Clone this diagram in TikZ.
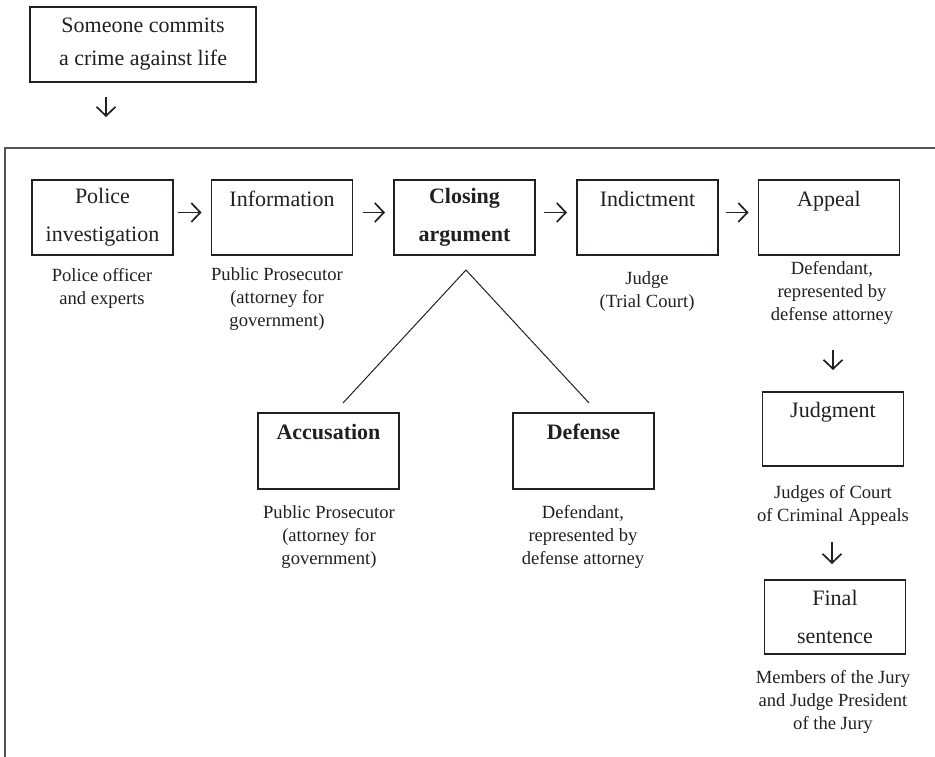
\documentclass[tikz,border=0pt]{standalone}
\usepackage{fontspec}
\setmainfont{Liberation Serif}
\usetikzlibrary{arrows.meta}
\definecolor{ink}{HTML}{231F20}
\definecolor{framegray}{HTML}{555555}
\tikzset{
  x=1pt,y=-1pt,
  box/.style={draw=ink,line width=1.2pt,rectangle,inner sep=0pt,outer sep=0pt,
    minimum width=141pt,minimum height=75pt,align=center,text=ink,
    font=\fontsize{22}{38}\selectfont},
  boldbox/.style={box,font=\fontsize{22}{38}\selectfont\bfseries},
  lbl/.style={align=center,text=ink,inner sep=0pt,font=\fontsize{18.6}{23}\selectfont},
  arr/.style={draw=ink,line width=1.7pt,-{Straight Barb[length=9pt,width=19pt,line width=1.7pt]}},
  split/.style={draw=ink,line width=1pt},
}
\begin{document}
\begin{tikzpicture}
\useasboundingbox (0,0) rectangle (935,757);
% outer frame (clipped by the page)
\draw[framegray,line width=2pt] (5,757) -- (5,148) -- (935,148);
% top box
\node[box,minimum width=226pt,font=\fontsize{22}{33}\selectfont] (start) at (143,44.5) {Someone commits\\a crime against life};
\coordinate (d0) at (106,117);
\draw[arr,shorten <=15pt] (start.south -| d0) -- (d0);
% main row
\node[box] (police) at (102.5,217.5) {Police\\investigation};
\node[box] (info) at (282,217.5) {Information\\\mbox{}};
\node[boldbox] (closing) at (464.5,217.5) {Closing\\argument};
\node[box] (indict) at (647.5,217.5) {Indictment\\\mbox{}};
\node[box] (appeal) at (829,217.5) {Appeal\\\mbox{}};
\draw[arr,shorten <=5pt,shorten >=10pt] ([yshift=5pt]police.east) -- ([yshift=5pt]info.west);
\draw[arr,shorten <=10pt,shorten >=9pt] ([yshift=5pt]info.east) -- ([yshift=5pt]closing.west);
\draw[arr,shorten <=9pt,shorten >=10pt] ([yshift=5pt]closing.east) -- ([yshift=5pt]indict.west);
\draw[arr,shorten <=8pt,shorten >=10pt] ([yshift=5pt]indict.east) -- ([yshift=5pt]appeal.west);
% labels of main row
\node[lbl] (policel) at (102,288) {Police officer\\and experts};
\node[lbl] (infol) at (277,299) {Public Prosecutor\\(attorney for\\government)};
\node[lbl] (indictl) at (647,292) {Judge\\(Trial Court)};
\node[lbl] (appeall) at (832,293) {Defendant,\\represented by\\defense attorney};
% split of closing argument
\node[boldbox,minimum height=76pt] (accus) at (328.5,451) {Accusation\\\mbox{}};
\node[boldbox,minimum height=76pt] (defense) at (583.5,451) {Defense\\\mbox{}};
\coordinate (apex) at ([xshift=1.5pt,yshift=-15pt]closing.south);
\draw[split] ([xshift=14.5pt,yshift=10pt]accus.north) -- (apex) -- ([xshift=5.5pt,yshift=10pt]defense.north);
\node[lbl] (accusl) at (329,537) {Public Prosecutor\\(attorney for\\government)};
\node[lbl] (defensel) at (583,537) {Defendant,\\represented by\\defense attorney};
% right column
\node[box,minimum height=74pt] (judgment) at (833,429) {Judgment\\\mbox{}};
\draw[arr,shorten >=22pt] ([yshift=42pt]judgment.north) -- (judgment.north);
\node[lbl] (judgmentl) at (833,505) {Judges of Court\\of Criminal Appeals};
\node[box,minimum height=74pt] (final) at (835,617) {Final\\sentence};
\draw[arr,shorten >=16pt] ([yshift=38pt,xshift=-3pt]final.north) -- ([xshift=-3pt]final.north);
\node[lbl] (finall) at (833,702) {Members of the Jury\\and Judge President\\of the Jury};
\end{tikzpicture}
\end{document}
